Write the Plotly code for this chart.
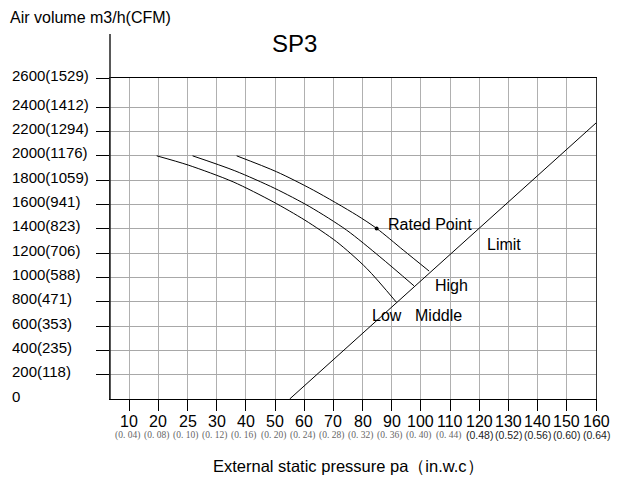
import plotly.graph_objects as go

# ---------------- data ----------------
pressure_ticks = [0, 10, 20, 30, 40, 50, 60, 70, 80, 90, 100, 110, 120, 130, 140, 150, 160]
pressure_labels = ["10", "20", "25", "30", "40", "50", "60", "70", "80", "90",
                   "100", "110", "120", "130", "140", "150", "160"]
inwc_labels = ["(0. 04)", "(0. 08)", "(0. 10)", "(0. 12)", "(0. 16)", "(0. 20)",
               "(0. 24)", "(0. 28)", "(0. 32)", "(0. 36)", "(0. 40)", "(0. 44)",
               "(0.48)", "(0.52)", "(0.56)", "(0.60)", "(0.64)"]

airflow_ticks = [0, 200, 400, 600, 800, 1000, 1200, 1400, 1600, 1800, 2000, 2200, 2400, 2600]
airflow_labels = ["0", "200(118)", "400(235)", "600(353)", "800(471)", "1000(588)",
                  "1200(706)", "1400(823)", "1600(941)", "1800(1059)", "2000(1176)",
                  "2200(1294)", "2400(1412)", "2600(1529)"]

low_x = [9.4, 20.2, 35.6, 49.3, 60.2, 71.1, 81.4, 91.6]
low_y = [2000, 1924, 1786, 1622, 1471, 1293, 1074, 795]

middle_x = [21.7, 36.2, 49.9, 61.9, 74.5, 85.9, 97.6]
middle_y = [2000, 1877, 1732, 1581, 1389, 1170, 931]

high_x = [36.8, 50.5, 63.1, 77.9, 84.8, 93.9, 102.8]
high_y = [2000, 1869, 1718, 1513, 1403, 1225, 1052]

limit_x = [55, 160]
limit_y = [0, 2270]

rated_x = [84.8]
rated_y = [1403]

curve_labels = [
    ("Rated Point", 88.0, 1439),
    ("Limit", 121.9, 1274),
    ("High", 104.0, 937),
    ("Low", 82.5, 690),
    ("Middle", 97.1, 690),
]

# ---------------- figure ----------------
SANS = "Liberation Sans, Arial, sans-serif"
SERIF = "Liberation Serif, Times New Roman, serif"
X_MIN, X_MAX = -6.6, 160
Y_MAX = 2640  # top frame of the chart, labelled 2600

OFF = 8  # page body margin
W, H = 621 - OFF, 479 - OFF
ML, MR, MT, MB = 110 - OFF, 25, 78 - OFF, 80
PW, PH = W - ML - MR, H - MT - MB
TICK_LEN = 11  # px


def px_x(px):
    return (px - OFF - ML) / PW


def px_y(py):
    return 1 - (py - OFF - MT) / PH


fig = go.Figure()
for xs, ys in [(low_x, low_y), (middle_x, middle_y), (high_x, high_y)]:
    fig.add_trace(go.Scatter(x=xs, y=ys, mode="lines",
                             line=dict(color="black", width=1, shape="spline", smoothing=0.8),
                             hoverinfo="skip", showlegend=False))
fig.add_trace(go.Scatter(x=limit_x, y=limit_y, mode="lines",
                         line=dict(color="black", width=1), showlegend=False))
fig.add_trace(go.Scatter(x=rated_x, y=rated_y, mode="markers",
                         marker=dict(color="black", size=4), showlegend=False))

# x-axis tick marks below the axis line (drawn as unclipped vertical-line markers)
tick_center = -(TICK_LEN / 2) * Y_MAX / PH
fig.add_trace(go.Scatter(x=pressure_ticks, y=[tick_center] * len(pressure_ticks), mode="markers",
                         marker=dict(symbol="line-ns", size=TICK_LEN, color="black",
                                     line=dict(color="black", width=1)),
                         cliponaxis=False, hoverinfo="skip", showlegend=False))

annotations = []
for text, x, y in curve_labels:
    annotations.append(dict(x=x, y=y, xref="x", yref="y", text=text, showarrow=False,
                            xanchor="left", yanchor="middle",
                            font=dict(family=SANS, size=16, color="black")))

# y tick labels (left aligned)
y_label_pos = airflow_ticks[:-1] + [Y_MAX]
for lab, yv in zip(airflow_labels, y_label_pos):
    annotations.append(dict(x=px_x(10), y=yv, xref="paper", yref="y", text=lab,
                            showarrow=False, xanchor="left", yanchor="middle", yshift=3,
                            font=dict(family=SANS, size=15, color="black")))

# x tick labels (pa) and in.w.c sub labels
for i, (lab, sub, xv) in enumerate(zip(pressure_labels, inwc_labels, pressure_ticks)):
    annotations.append(dict(x=xv, y=px_y(421), xref="x", yref="paper", text=lab,
                            showarrow=False, xanchor="center", yanchor="middle",
                            font=dict(family=SANS, size=16, color="black")))
    serif = i < 12
    annotations.append(dict(x=xv, y=px_y(435), xref="x", yref="paper", text=sub,
                            showarrow=False, xanchor="center", yanchor="middle",
                            xshift=-2 if serif else 0,
                            font=dict(family=SERIF if serif else SANS,
                                      size=9.5 if serif else 10.5,
                                      color="#666666" if serif else "#222222")))

# axis titles and chart title
annotations.append(dict(x=px_x(348), y=px_y(466), xref="paper", yref="paper",
                        text="External static pressure pa（in.w.c）", showarrow=False,
                        xanchor="center", yanchor="middle",
                        font=dict(family=SANS, size=16.5, color="black")))
annotations.append(dict(x=px_x(8), y=px_y(17), xref="paper", yref="paper",
                        text="Air volume m3/h(CFM)", showarrow=False,
                        xanchor="left", yanchor="middle",
                        font=dict(family=SANS, size=16, color="black")))
annotations.append(dict(x=px_x(294), y=px_y(43), xref="paper", yref="paper",
                        text="SP3", showarrow=False, xanchor="center", yanchor="middle",
                        font=dict(family=SANS, size=24, color="black")))

# y axis line extension above the frame
shapes = [dict(type="line", xref="paper", yref="paper", x0=0, x1=0, y0=0, y1=px_y(34),
               line=dict(color="#222222", width=1.5))]

fig.update_layout(
    width=W, height=H,
    margin=dict(l=ML, r=MR, t=MT, b=MB),
    paper_bgcolor="white", plot_bgcolor="white",
    showlegend=False,
    annotations=annotations,
    shapes=shapes,
    xaxis=dict(range=[X_MIN, X_MAX], tickvals=pressure_ticks, ticktext=[""] * len(pressure_ticks),
               showgrid=True, gridcolor="#b0b0b0", gridwidth=1,
               showline=True, linecolor="black", linewidth=1, mirror=True,
               ticks="outside", ticklen=TICK_LEN, tickcolor="black", tickwidth=1,
               showticklabels=False, zeroline=False),
    yaxis=dict(range=[0, Y_MAX], tickvals=y_label_pos[1:], ticktext=[""] * (len(y_label_pos) - 1),
               showgrid=True, gridcolor="#a8a8a8", gridwidth=1,
               showline=True, linecolor="#333333", linewidth=1, mirror=True,
               ticks="outside", ticklen=13, tickcolor="black", tickwidth=1,
               showticklabels=False, zeroline=False),
)

fig.write_html("out.html")
